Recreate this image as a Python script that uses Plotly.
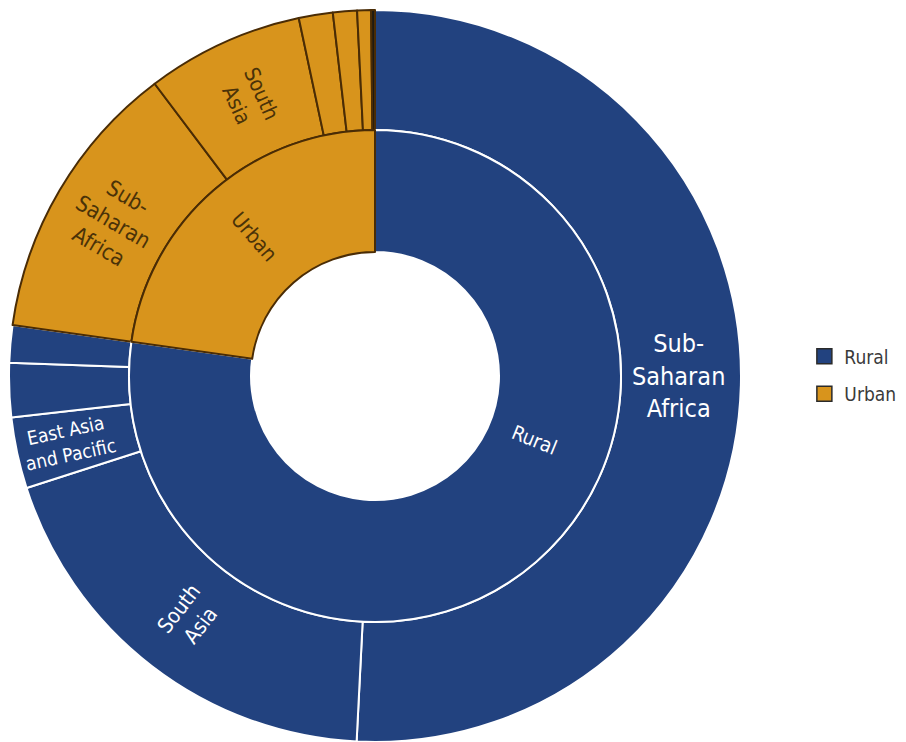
import math
import plotly.graph_objects as go

# ---- data ----
inner_labels = ["Rural", "Urban"]
outer_labels = [
    "Rural - Sub-Saharan Africa", "Rural - South Asia", "Rural - East Asia and Pacific",
    "Rural - Latin America and Caribbean", "Rural - Middle East and North Africa",
    "Urban - Sub-Saharan Africa", "Urban - South Asia", "Urban - East Asia and Pacific",
    "Urban - Latin America and Caribbean", "Urban - Middle East and North Africa",
    "Urban - Europe and Central Asia",
]
outer_values = [50.8, 19.25, 3.14, 2.39, 1.64, 12.5, 6.94, 1.5, 1.06, 0.61, 0.17]
outer_parent = ["Rural"] * 5 + ["Urban"] * 6
outer_text = ["Sub-<br>Saharan<br>Africa", "South<br>Asia", "East Asia<br>and Pacific", "", "",
              "Sub-<br>Saharan<br>Africa", "South<br>Asia", "", "", "", ""]
inner_values = [sum(v for v, p in zip(outer_values, outer_parent) if p == lab) for lab in inner_labels]
inner_text = ["", "Urban"]   # "Rural" label placed as an annotation below

# ---- styles ----
NAVY = "#22427f"
GOLD = "#d8941c"
DARK = "#4a2c05"
FONT = "DejaVu Sans Condensed, Liberation Sans Narrow, Arial Narrow, sans-serif"

fill = {"Rural": NAVY, "Urban": GOLD}
edge = {"Rural": "white", "Urban": DARK}
txtc = {"Rural": "white", "Urban": "#4a3208"}

outer_colors = [fill[p] for p in outer_parent]
outer_colors[-1] = "#1e1a12"
outer_line = [edge[p] for p in outer_parent]
outer_sizes = [25, 21, 19, 10, 10, 22, 21, 10, 10, 10, 10]

W, H = 906, 742
cx, cy = 367, 374          # center in figure px (from left, from bottom)
R_out, R_mid, R_hole = 366, 246, 124

fig = go.Figure()
fig.add_trace(go.Pie(
    labels=outer_labels, values=outer_values, text=outer_text,
    textinfo="text", sort=False, direction="clockwise", rotation=0,
    hole=R_mid / R_out,
    domain=dict(x=[(cx - R_out) / W, (cx + R_out) / W], y=[(cy - R_out) / H, (cy + R_out) / H]),
    marker=dict(colors=outer_colors, line=dict(color=outer_line, width=2)),
    insidetextorientation="radial",
    insidetextfont=dict(family=FONT, size=outer_sizes, color=[txtc[p] for p in outer_parent]),
    showlegend=False, hoverinfo="label+percent",
))
fig.add_trace(go.Pie(
    labels=inner_labels, values=inner_values, text=inner_text,
    textinfo="text", sort=False, direction="clockwise", rotation=0,
    hole=R_hole / R_mid,
    domain=dict(x=[(cx - R_mid) / W, (cx + R_mid) / W], y=[(cy - R_mid) / H, (cy + R_mid) / H]),
    marker=dict(colors=[fill[l] for l in inner_labels], line=dict(color=[edge[l] for l in inner_labels], width=2)),
    insidetextorientation="radial",
    insidetextfont=dict(family=FONT, size=21, color=[txtc[l] for l in inner_labels]),
    showlegend=False, hoverinfo="label+percent",
))

# legend entries
for i, lab in enumerate(inner_labels):
    fig.add_trace(go.Scatter(
        x=[None], y=[None], mode="markers", name=lab, legendgroup=lab,
        marker=dict(symbol="square", size=15, color=fill[lab], line=dict(color="#2a2a2a", width=1.5)),
        showlegend=True, hoverinfo="skip",
    ))

# "Rural" label inside the inner ring
ang = math.radians(22)
r_lab = 172
fig.add_annotation(
    x=(cx + r_lab * math.cos(ang)) / W, y=(cy - r_lab * math.sin(ang)) / H,
    xref="paper", yref="paper", text="Rural", showarrow=False, textangle=22,
    font=dict(family=FONT, size=20, color="white"),
)

fig.update_layout(
    width=W, height=H,
    margin=dict(l=0, r=0, t=0, b=0),
    paper_bgcolor="white", plot_bgcolor="white",
    xaxis=dict(visible=False), yaxis=dict(visible=False),
    showlegend=True,
    legend=dict(x=0.879, y=0.505, xanchor="left", yanchor="middle",
                font=dict(family=FONT, size=19, color="#3a3a3a"),
                tracegroupgap=10, bgcolor="rgba(0,0,0,0)"),
    font=dict(family=FONT),
)

fig.write_html("out.html")
